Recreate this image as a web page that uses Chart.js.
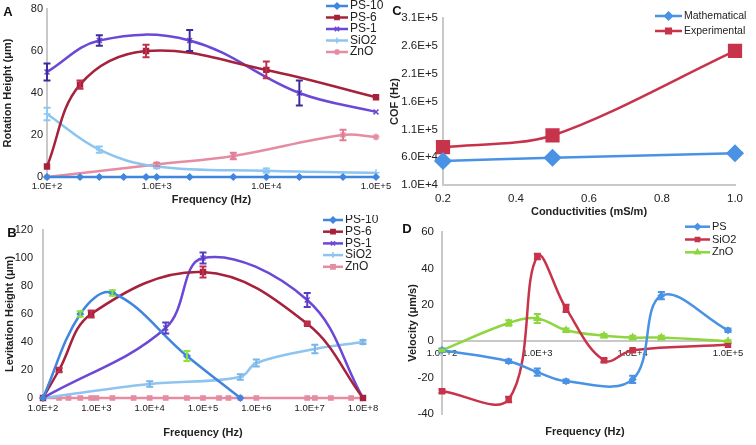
<!DOCTYPE html>
<html><head><meta charset="utf-8">
<script src="https://cdn.jsdelivr.net/npm/chart.js@4/dist/chart.umd.min.js"></script>
<style>
html,body{margin:0;padding:0;background:#fff;}
#wrap{position:relative;width:756px;height:445px;overflow:hidden;background:#fff;}
canvas{position:absolute;}
</style></head><body>
<div id="wrap">
<canvas id="cA" width="395" height="215" style="left:0;top:0"></canvas>
<canvas id="cC" width="376" height="225" style="left:380px;top:0"></canvas>
<canvas id="cB" width="395" height="230" style="left:0;top:215px"></canvas>
<canvas id="cD" width="376" height="230" style="left:380px;top:215px"></canvas>
</div>
<script>
// ---------- Panel A : rotation height ----------
const freqA10 = [100,200,300,500,800,1000,2000,5000,10000,20000,50000,100000];
const ps10A   = [0,0,0,0,0,0,0,0,0,0,0,0];
const freqA6  = [100,200,800,10000,100000];
const ps6A    = [5,44,60,51,38];
const ps6AErr = [0,2,3,4,0];
const freqA1  = [100,300,2000,20000,100000];
const ps1A    = [50,65,65,40,31];
const ps1AErr = [4,2.5,5,6,0];
const freqASi = [100,300,1000,10000,100000];
const sio2A   = [30,13,5,3,2];
const sio2AErr= [3,1.5,0.8,1,0];
const freqAZn = [100,1000,5000,50000,100000];
const znoA    = [0,6,10,20,19];
const znoAErr = [0,0.8,1.5,2.5,0];
const ticksAx = [1e2,1e3,1e4,1e5];
const ticksAy = [0,20,40,60,80];

// ---------- Panel B : levitation height ----------
const freqB10 = [100,500,2000,50000,500000];
const ps10B   = [0,60,75,30,0];
const ps10BErr= [0,2,2,3.5,0];
const freqB6  = [100,200,800,100000,9000000,100000000];
const ps6B    = [0,20,60,90,53,0];
const ps6BErr = [0,1.5,2.5,4,1,0];
const freqB1  = [100,20000,100000,9000000,100000000];
const ps1B    = [0,50,100,70,0];
const ps1BErr = [0,4,4,5,0];
const freqBSi = [100,10000,500000,1000000,12500000,100000000];
const sio2B   = [0,10,15,25,35,40];
const sio2BErr= [0,2,2,2.5,3,1.5];
const freqBZn = [100,200,300,500,800,1000,2000,5000,10000,20000,50000,100000,200000,300000,500000,1000000,9000000,12500000,25000000,60000000,100000000];
const znoB    = [0,0,0,0,0,0,0,0,0,0,0,0,0,0,0,0,0,0,0,0,0];
const ticksBx = [1e2,1e3,1e4,1e5,1e6,1e7,1e8];
const ticksBy = [0,20,40,60,80,100,120];

// ---------- Panel C : COF vs conductivity ----------
const condC   = [0.2,0.5,1.0];
const mathC   = [53000,59000,67000];
const expC    = [78000,99000,251000];
const ticksCx = [0.2,0.4,0.6,0.8,1.0];
const ticksCy = [10000,60000,110000,160000,210000,260000,310000];

// ---------- Panel D : velocity ----------
const freqDPs = [100,500,1000,2000,10000,20000,100000];
const psD     = [-5,-11,-17,-22,-21,25,6];
const psDErr  = [1,1,2,1,2,2,1];
const freqDSi = [100,500,1000,2000,5000,10000,100000];
const sio2D   = [-27.5,-32,46.5,18,-10.5,-5,-2];
const sio2DErr= [1,1.5,1.5,2,1,0.5,0];
const freqDZn = [100,500,1000,2000,5000,10000,20000,100000];
const znoD    = [-5,10,12.5,6,3,2,2,0];
const znoDErr = [0.5,1.5,2.5,1,1,1,1,0.5];
const ticksDx = [1e2,1e3,1e4,1e5];
const ticksDy = [-40,-20,0,20,40,60];

// ---------- helpers ----------
Chart.defaults.font.family = "'Liberation Sans', Arial, sans-serif";
Chart.defaults.color = '#222';
const FONT = "'Liberation Sans', Arial, sans-serif";
const pts = (xs, ys) => xs.map((x, i) => ({x: x, y: ys[i]}));
const fmtE = v => Number(v).toExponential(1).toUpperCase();

function ds(label, xs, ys, err, color, style, r, errColor, tension) {
  return {label, data: pts(xs, ys), err: err, errColor: errColor || color,
    borderColor: color, backgroundColor: color, pointStyle: style, pointRadius: r,
    pointHoverRadius: r, pointBorderColor: color, pointBackgroundColor: color,
    pointBorderWidth: 1.5, borderWidth: 2.5, tension: tension === undefined ? 0.38 : tension,
    clip: 12, fill: false};
}

const errPlugin = {
  id: 'errbars',
  afterDatasetsDraw(chart) {
    const ctx = chart.ctx, ys = chart.scales.y;
    chart.data.datasets.forEach((d, i) => {
      if (!d.err) return;
      const meta = chart.getDatasetMeta(i);
      ctx.save();
      ctx.strokeStyle = d.errColor; ctx.lineWidth = 2;
      d.data.forEach((p, j) => {
        const e = d.err[j]; if (!e) return;
        const px = meta.data[j].x;
        const y1 = ys.getPixelForValue(p.y - e), y2 = ys.getPixelForValue(p.y + e);
        ctx.beginPath();
        ctx.moveTo(px, y1); ctx.lineTo(px, y2);
        ctx.moveTo(px - 3.5, y1); ctx.lineTo(px + 3.5, y1);
        ctx.moveTo(px - 3.5, y2); ctx.lineTo(px + 3.5, y2);
        ctx.stroke();
      });
      ctx.restore();
    });
  }
};

function marker(ctx, style, r, x, y) {
  if (Chart.helpers && Chart.helpers.drawPoint) {
    Chart.helpers.drawPoint(ctx, {pointStyle: style, radius: r, borderWidth: 1.5, rotation: 0}, x, y);
  }
}

const legPlugin = {
  id: 'leg',
  afterDraw(chart, args, o) {
    const ctx = chart.ctx;
    ctx.save();
    if (o.panel) {
      ctx.font = 'bold 13px ' + FONT; ctx.fillStyle = '#111';
      ctx.textAlign = 'center'; ctx.textBaseline = 'middle';
      ctx.fillText(o.panel, o.px, o.py);
    }
    ctx.textAlign = 'left'; ctx.textBaseline = 'middle';
    ctx.font = o.font + 'px ' + FONT;
    chart.data.datasets.forEach((d, i) => {
      const y = o.y + i * o.dy;
      ctx.strokeStyle = d.borderColor; ctx.fillStyle = d.borderColor; ctx.lineWidth = 2.5;
      ctx.beginPath(); ctx.moveTo(o.x, y); ctx.lineTo(o.x + o.len, y); ctx.stroke();
      ctx.lineWidth = 1.5;
      marker(ctx, d.pointStyle, o.r || d.pointRadius, o.x + o.len / 2, y);
      ctx.fillStyle = '#222';
      ctx.fillText(d.label, o.x + o.len + o.gap, y);
    });
    ctx.restore();
  }
};

function xAxis(type, min, max, ticks, title, f, position) {
  return {type, min, max, position: position || 'bottom',
    afterBuildTicks: s => { s.ticks = ticks.map(v => ({value: v})); },
    ticks: {autoSkip: false, maxRotation: 0, padding: f.pad, font: {size: f.fs}, color: '#222',
      callback: f.fmt},
    grid: {display: false, drawTicks: false},
    border: {display: true, color: '#c9c9c9', width: 2},
    title: {display: true, text: title, font: {size: 11, weight: 'bold'}, color: '#222',
      padding: {top: 0, bottom: f.tpad}},
    afterFit: s => { s.height = f.h; s.paddingLeft = 0; s.paddingRight = 0; }
  };
}
function yAxis(min, max, ticks, title, f) {
  return {type: 'linear', min, max,
    afterBuildTicks: s => { s.ticks = ticks.map(v => ({value: v})); },
    ticks: {padding: f.pad, font: {size: f.fs}, color: '#222', callback: f.fmt || (v => v)},
    grid: {display: false, drawTicks: false},
    border: {display: true, color: '#c9c9c9', width: 2},
    title: {display: true, text: title, font: {size: 11, weight: 'bold'}, color: '#222',
      padding: {top: f.tpad, bottom: 0}},
    afterFit: s => { s.width = f.w; s.paddingTop = 0; s.paddingBottom = 0; }
  };
}
function make(id, datasets, scales, padding, leg) {
  return new Chart(document.getElementById(id), {
    type: 'line',
    data: {datasets},
    options: {responsive: false, animation: false, devicePixelRatio: 1,
      layout: {padding},
      scales,
      plugins: {legend: {display: false}, tooltip: {enabled: false}, leg: leg}
    },
    plugins: [errPlugin, legPlugin]
  });
}

const BLUE = '#3f86e0', RED = '#a6213b', PURP = '#6b48d6', LBLUE = '#8ec4f0', PINK = '#e58ca2';

// Panel A
make('cA', [
  ds('PS-10', freqA10, ps10A, null, BLUE, 'rectRot', 3),
  ds('PS-6', freqA6, ps6A, ps6AErr, RED, 'rect', 3.5, '#c0304c'),
  ds('PS-1', freqA1, ps1A, ps1AErr, PURP, 'crossRot', 3.5, '#3b2c9e'),
  ds('SiO2', freqASi, sio2A, sio2AErr, LBLUE, 'cross', 3.5, '#8cc8f2'),
  ds('ZnO', freqAZn, znoA, znoAErr, PINK, 'star', 3.5, '#e07c96')
], {
  x: xAxis('logarithmic', 100, 100000, ticksAx, 'Frequency (Hz)', {pad: 4, fs: 9.5, tpad: 8.4, h: 38, fmt: fmtE}),
  y: yAxis(0, 80, ticksAy, 'Rotation Height (\u03bcm)', {pad: 4, fs: 11, tpad: 1, w: 47})
}, {left: 0, top: 9, right: 19, bottom: 0},
{x: 326, y: 6, dy: 11.5, len: 22, gap: 2, font: 12, r: 3, panel: 'A', px: 8, py: 12.5});

// Panel B
make('cB', [
  ds('PS-10', freqB10, ps10B, ps10BErr, BLUE, 'rectRot', 3, '#8fe23c'),
  ds('PS-6', freqB6, ps6B, ps6BErr, RED, 'rect', 3.5, '#c0304c'),
  ds('PS-1', freqB1, ps1B, ps1BErr, PURP, 'crossRot', 3.5, '#5a3cc4'),
  ds('SiO2', freqBSi, sio2B, sio2BErr, LBLUE, 'cross', 3.5, '#78b6ea'),
  ds('ZnO', freqBZn, znoB, null, PINK, 'rect', 3, null)
], {
  x: xAxis('logarithmic', 100, 100000000, ticksBx, 'Frequency (Hz)', {pad: 5, fs: 9.5, tpad: 5.4, h: 47, fmt: fmtE}),
  y: yAxis(0, 120, ticksBy, 'Levitation Height (\u03bcm)', {pad: 10, fs: 11, tpad: 3.4, w: 43})
}, {left: 0, top: 15, right: 32, bottom: 0},
{x: 323, y: 5, dy: 11.7, len: 20, gap: 2, font: 12, r: 3, panel: 'B', px: 12, py: 18});

// Panel C
make('cC', [
  ds('Mathematical', condC, mathC, null, '#4a92e4', 'rectRot', 8, null, 0.3),
  ds('Experimental', condC, expC, null, '#c8334c', 'rect', 9, null, 0.3)
], {
  x: xAxis('linear', 0.2, 1.0, ticksCx, 'Conductivities (mS/m)', {pad: 7, fs: 11.5, tpad: 6.9, h: 40, fmt: v => Number(v).toFixed(1)}),
  y: yAxis(10000, 310000, ticksCy, 'COF (Hz)', {pad: 5, fs: 11.5, tpad: 8.4, w: 63, fmt: fmtE})
}, {left: 0, top: 18, right: 21, bottom: 0},
{x: 275, y: 16, dy: 15, len: 27, gap: 2, font: 10.5, r: 4, panel: 'C', px: 17, py: 11});

// Panel D
make('cD', [
  ds('PS', freqDPs, psD, psDErr, '#4a92e4', 'rectRot', 3),
  ds('SiO2', freqDSi, sio2D, sio2DErr, '#c8334c', 'rect', 3.5),
  ds('ZnO', freqDZn, znoD, znoDErr, '#8ed63e', 'triangle', 3.5)
], {
  x: xAxis('logarithmic', 100, 100000, ticksDx, 'Frequency (Hz)', {pad: 6, fs: 9.5, tpad: -63.6, h: 34, fmt: fmtE}, {y: 0}),
  y: yAxis(-40, 60, ticksDy, 'Velocity (\u03bcm/s)', {pad: 8, fs: 11.5, tpad: 26, w: 62})
}, {left: 0, top: 17, right: 28, bottom: 31},
{x: 305, y: 11.7, dy: 12.8, len: 25, gap: 2, font: 11, r: 3, panel: 'D', px: 27, py: 14});
</script>
</body></html>
